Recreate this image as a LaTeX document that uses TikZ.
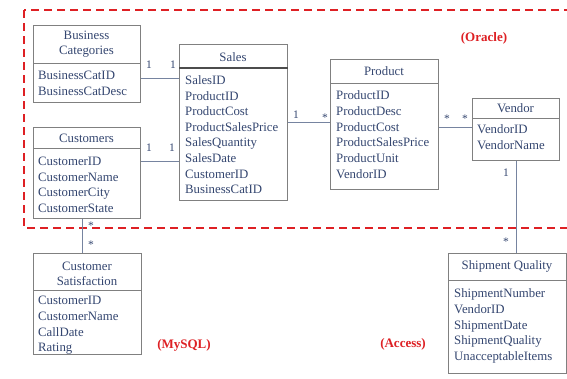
\documentclass[tikz,border=0pt]{standalone}
\usepackage{fontspec}
\setmainfont{Liberation Serif}
\definecolor{txt}{RGB}{52,70,112}
\definecolor{boxc}{RGB}{128,128,128}
\definecolor{lnc}{RGB}{118,132,160}
\definecolor{redc}{RGB}{222,32,36}
\begin{document}
\begin{tikzpicture}[x=1bp,y=-1bp,
  ent/.style={draw=boxc,line width=0.9bp,inner sep=0,anchor=north west},
  divl/.style={draw=boxc,line width=0.9bp},
  hdr/.style={text=txt,font=\fontsize{12.8bp}{15bp}\selectfont,align=center,inner sep=0},
  attr/.style={text=txt,font=\fontsize{12.8bp}{15bp}\selectfont,inner sep=0,anchor=base west},
  conn/.style={draw=lnc,line width=0.8bp},
  mult/.style={text=txt,font=\fontsize{11.5bp}{13bp}\selectfont,inner sep=0},
  dbname/.style={text=redc,font=\bfseries\fontsize{13bp}{15bp}\selectfont,inner sep=0}]
\clip (0,0) rectangle (567,378);
\fill[white] (0,0) rectangle (567,378);

% Oracle dashed region
\draw[redc,line width=2.2bp,dash pattern=on 8bp off 5bp] (24,10) rectangle (600,228);
\node[dbname] (oracle) at (484,38) {(Oracle)};
\node[dbname] (mysql) at (184,345) {(MySQL)};
\node[dbname] (access) at (403,344) {(Access)};

% Business Categories
\node[ent,minimum width=107bp,minimum height=77bp] (bc) at (33,25) {};
\draw[divl] (bc.west |- 0,63) -- (bc.east |- 0,63);
\node[hdr] (bch) at (86.5,44.5) {Business\\Categories};
\foreach \t [count=\i] in {BusinessCatID,BusinessCatDesc}
  \node[attr] (bc-a\i) at (38,{79.5+16*(\i-1)}) {\t};

% Customers
\node[ent,minimum width=107bp,minimum height=91bp] (cust) at (33,127) {};
\draw[divl] (cust.west |- 0,148) -- (cust.east |- 0,148);
\node[hdr] (custh) at (86.5,138) {Customers};
\foreach \t [count=\i] in {CustomerID,CustomerName,CustomerCity,CustomerState}
  \node[attr] (cust-a\i) at (38,{165.5+15.6*(\i-1)}) {\t};

% Sales
\node[ent,minimum width=108bp,minimum height=156bp] (sales) at (179,44) {};
\draw[draw=black!70,line width=1.3bp] (sales.west |- 0,68) -- (sales.east |- 0,68);
\node[hdr] (salesh) at (233,57) {Sales};
\foreach \t [count=\i] in {SalesID,ProductID,ProductCost,ProductSalesPrice,SalesQuantity,SalesDate,CustomerID,BusinessCatID}
  \node[attr] (sales-a\i) at (185,{84.5+15.6*(\i-1)}) {\t};

% Product
\node[ent,minimum width=108bp,minimum height=130bp] (prod) at (330,59) {};
\draw[divl] (prod.west |- 0,83) -- (prod.east |- 0,83);
\node[hdr] (prodh) at (384,71) {Product};
\foreach \t [count=\i] in {ProductID,ProductDesc,ProductCost,ProductSalesPrice,ProductUnit,VendorID}
  \node[attr] (prod-a\i) at (336,{99.5+15.8*(\i-1)}) {\t};

% Vendor
\node[ent,minimum width=87bp,minimum height=62bp] (vend) at (472,98) {};
\draw[divl] (vend.west |- 0,118) -- (vend.east |- 0,118);
\node[hdr] (vendh) at (515.5,108.5) {Vendor};
\foreach \t [count=\i] in {VendorID,VendorName}
  \node[attr] (vend-a\i) at (477,{133.5+16*(\i-1)}) {\t};

% Customer Satisfaction
\node[ent,minimum width=108bp,minimum height=101bp] (cs) at (33,253) {};
\draw[divl] (cs.west |- 0,290) -- (cs.east |- 0,290);
\node[hdr] (csh) at (87,273.5) {Customer\\Satisfaction};
\foreach \t [count=\i] in {CustomerID,CustomerName,CallDate,Rating}
  \node[attr] (cs-a\i) at (38,{304.5+15.8*(\i-1)}) {\t};

% Shipment Quality
\node[ent,minimum width=118bp,minimum height=120bp] (ship) at (448,253) {};
\draw[divl] (ship.west |- 0,280) -- (ship.east |- 0,280);
\node[hdr] (shiph) at (507,266) {Shipment Quality};
\foreach \t [count=\i] in {ShipmentNumber,VendorID,ShipmentDate,ShipmentQuality,UnacceptableItems}
  \node[attr] (ship-a\i) at (454,{297.5+15.8*(\i-1)}) {\t};

% Connectors
\draw[conn] (bc.east |- 0,78) -- (sales.west |- 0,78);
\node[mult] (m1) at (149,65) {1};
\node[mult] (m2) at (173,65) {1};

\draw[conn] (cust.east |- 0,161) -- (sales.west |- 0,161);
\node[mult] (m3) at (149,148) {1};
\node[mult] (m4) at (172,148) {1};

\draw[conn] (sales.east |- 0,122) -- (prod.west |- 0,122);
\node[mult] (m5) at (296,115) {1};
\node[mult] (m6) at (325,118) {*};

\draw[conn] (prod.east |- 0,127) -- (vend.west |- 0,127);
\node[mult] (m7) at (447,119) {*};
\node[mult] (m8) at (465,119) {*};

\draw[conn] (vend.south) -- (vend.south |- ship.north);
\node[mult] (m9) at (506,173) {1};
\node[mult] (m10) at (506,242) {*};

\draw[conn] (cust.south -| 82,0) -- (cs.north -| 82,0);
\node[mult] (m11) at (91,226) {*};
\node[mult] (m12) at (91,245) {*};
\end{tikzpicture}
\end{document}
